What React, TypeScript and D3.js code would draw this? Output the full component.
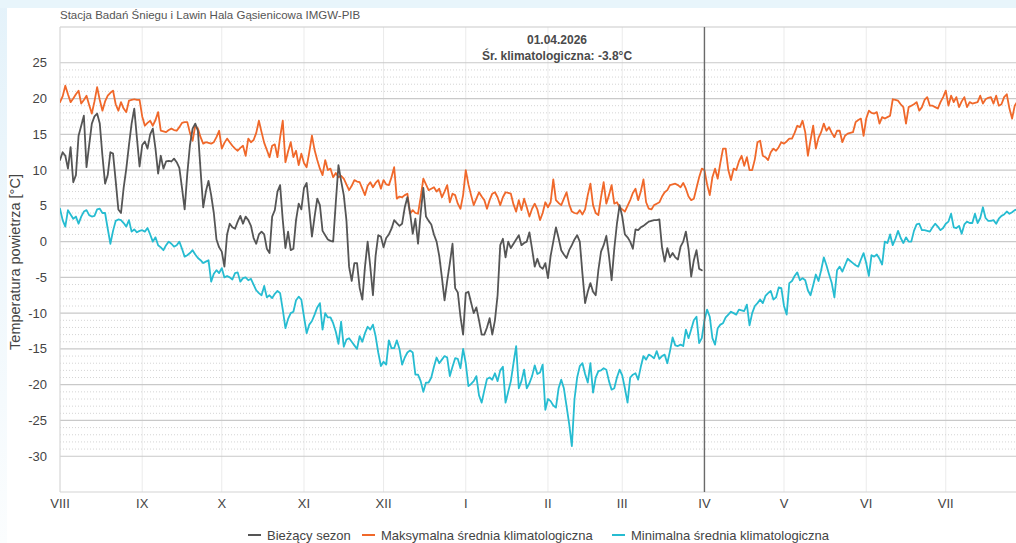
import React from "react";
import * as d3 from "d3";

// Roman month labels, August to July
const monthLabels = ["VIII", "IX", "X", "XI", "XII", "I", "II", "III", "IV", "V", "VI", "VII"];
const yTickValues = [25, 20, 15, 10, 5, 0, -5, -10, -15, -20, -25, -30];

const seasonStart = new Date(Date.UTC(2025, 7, 1));
const seasonEnd = new Date(Date.UTC(2026, 7, 1));
const markerDate = new Date(Date.UTC(2026, 3, 1));

const stationName = "Stacja Badań Śniegu i Lawin Hala Gąsienicowa IMGW-PIB";
const markerLabel = "01.04.2026";
const markerClimLabel = "Śr. klimatologiczna: -3.8°C";

const legendLabels = [
  "Bieżący sezon",
  "Maksymalna średnia klimatologiczna",
  "Minimalna średnia klimatologiczna",
];

// Daily maximum climatological mean temperature, 1 Aug – 31 Jul
const maxClim = [
  19.5, 20.3, 21.8, 20.6, 19.5, 20.0, 20.6, 21.1, 19.3, 19.8, 20.4, 19.1, 17.9, 19.6, 21.6, 19.8, 18.3, 19.6, 20.4, 20.8, 21.1, 19.2, 18.3, 19.5, 18.6, 18.1, 19.7, 19.8, 19.9, 19.8, 19.8,
  17.5, 16.2, 16.6, 16.9, 16.2, 17.0, 18.1, 15.5, 15.4, 15.3, 15.6, 15.8, 15.6, 15.5, 16.0, 16.6, 16.7, 16.7, 15.2, 14.1, 16.2, 15.8, 14.6, 13.7, 13.9, 13.8, 13.7, 13.9, 14.6, 15.5,
  13.0, 13.8, 14.4, 13.9, 13.4, 13.0, 12.7, 13.1, 13.4, 12.0, 14.4, 13.9, 14.2, 15.2, 16.9, 15.3, 13.8, 12.8, 11.8, 13.4, 13.6, 11.8, 14.6, 16.9, 11.1, 12.6, 13.9, 11.8, 12.7, 10.7, 12.3,
  11.0, 10.4, 12.5, 14.8, 12.8, 11.4, 10.2, 9.3, 11.4, 10.0, 10.2, 9.0, 9.6, 9.0, 9.2, 8.8, 8.0, 7.2, 7.8, 8.6, 8.4, 8.3, 7.4, 6.5, 7.8, 8.3, 7.6, 8.2, 8.6, 7.4,
  8.6, 8.0, 7.9, 9.0, 10.4, 6.0, 6.3, 6.2, 6.5, 6.7, 3.9, 4.4, 4.0, 3.9, 6.2, 8.8, 8.0, 7.2, 7.4, 7.6, 7.0, 7.4, 6.2, 7.0, 7.9, 5.5, 6.7, 6.5, 5.3, 4.6, 6.5,
  10.0, 8.0, 6.5, 5.1, 6.0, 6.9, 6.3, 5.8, 4.6, 5.8, 6.7, 6.9, 6.2, 5.1, 6.2, 6.9, 6.8, 6.7, 5.2, 4.2, 5.8, 4.4, 6.0, 4.8, 3.5, 4.6, 5.3, 4.5, 3.0, 4.0, 5.5,
  4.8, 5.5, 8.7, 5.8, 5.4, 5.1, 6.0, 6.9, 5.2, 4.2, 4.0, 3.9, 4.4, 3.8, 4.5, 6.5, 8.1, 5.1, 4.0, 3.7, 6.2, 8.3, 5.3, 6.5, 7.9, 5.3, 5.5, 4.8,
  4.5, 4.2, 5.0, 5.8, 6.8, 7.4, 5.8, 7.0, 8.7, 5.5, 4.6, 4.5, 5.1, 5.3, 5.5, 6.3, 6.9, 7.2, 7.9, 8.0, 8.1, 7.9, 7.6, 8.2, 7.4, 6.3, 5.8, 6.0, 7.5, 9.0, 10.2,
  10.0, 8.0, 6.5, 9.0, 10.2, 8.8, 11.0, 13.0, 13.0, 10.0, 8.6, 10.2, 10.0, 11.2, 12.0, 10.6, 11.8, 10.0, 10.0, 11.5, 13.9, 14.1, 12.0, 11.8, 11.4, 12.5, 13.0, 12.7, 13.2, 13.9,
  13.7, 14.0, 14.4, 14.4, 15.2, 16.2, 16.0, 16.9, 15.3, 12.0, 14.2, 16.2, 13.0, 14.5, 15.3, 16.5, 15.5, 16.0, 15.2, 14.6, 15.5, 15.5, 13.9, 14.8, 15.1, 15.2, 15.3, 16.7, 17.0, 17.2, 14.8,
  17.2, 18.3, 18.0, 17.9, 18.1, 16.5, 17.4, 17.2, 17.4, 17.6, 19.9, 19.8, 19.7, 19.2, 18.8, 16.5, 18.8, 19.0, 19.2, 19.5, 18.3, 18.8, 19.8, 20.2, 19.0, 19.0, 18.8, 18.6, 19.5, 20.2,
  21.1, 19.0, 20.4, 19.5, 20.2, 18.8, 19.6, 20.2, 18.8, 19.5, 19.3, 19.4, 19.5, 20.4, 19.3, 19.9, 20.1, 20.2, 19.3, 20.4, 19.0, 19.2, 20.2, 20.6, 18.6, 17.2, 19.0, 19.6, 20.0, 19.5, 19.8,
];

// Daily minimum climatological mean temperature, 1 Aug – 31 Jul
const minClim = [
  4.6, 3.0, 2.1, 4.4, 3.8, 3.2, 3.5, 2.5, 3.5, 4.2, 4.4, 3.7, 3.5, 3.6, 4.5, 4.6, 4.0, 4.0, 1.8, -0.3, 1.5, 2.9, 3.1, 3.0, 2.6, 2.1, 3.0, 1.4, 1.7, 1.3, 1.5,
  1.6, 1.4, 1.9, 1.0, 0.0, 0.6, -0.5, -0.8, -1.2, -0.5, 0.0, -0.3, -0.7, -0.5, 0.0, -1.0, -2.1, -1.9, -1.6, -1.2, -1.8, -2.3, -2.6, -3.0, -2.8, -2.6, -5.6, -4.5, -4.0, -4.4,
  -3.7, -5.0, -4.8, -5.0, -5.3, -4.4, -4.3, -5.6, -5.1, -5.0, -5.4, -5.2, -6.0, -6.8, -7.2, -7.5, -6.2, -7.8, -7.5, -7.9, -7.3, -6.9, -7.2, -9.5, -12.1, -10.8, -10.0, -9.8, -8.2, -7.7, -8.1,
  -10.5, -12.8, -11.6, -11.1, -10.2, -9.2, -8.6, -12.3, -10.0, -10.6, -10.6, -11.4, -12.6, -14.3, -11.2, -14.7, -13.7, -13.5, -14.0, -14.5, -15.0, -13.2, -14.0, -12.8, -11.9, -12.3, -11.6, -13.2, -15.5, -17.4,
  -16.8, -17.2, -13.8, -14.9, -14.9, -13.8, -15.0, -17.2, -16.2, -15.5, -15.2, -15.5, -18.6, -18.6, -19.5, -21.0, -19.7, -19.7, -19.0, -17.5, -16.2, -17.0, -16.5, -16.0, -16.2, -18.8, -17.5, -16.3, -16.4, -17.7, -15.0,
  -17.0, -20.2, -19.9, -19.5, -18.8, -21.5, -22.5, -20.8, -19.2, -19.0, -19.3, -18.4, -19.5, -18.0, -17.5, -22.5, -21.0, -19.5, -17.0, -14.6, -20.5, -19.5, -17.9, -20.5, -19.8, -18.8, -17.3, -18.5, -18.3, -17.2, -23.5,
  -22.0, -22.3, -22.9, -23.2, -20.5, -19.3, -20.5, -23.0, -25.5, -28.6, -22.0, -19.0, -17.4, -17.0, -18.5, -19.7, -17.0, -21.1, -19.0, -18.1, -18.0, -17.7, -17.9, -19.5, -20.7, -20.5, -19.0, -17.9,
  -18.7, -20.5, -22.5, -19.0, -18.6, -18.4, -19.3, -17.5, -16.0, -16.5, -15.8, -16.0, -16.3, -15.3, -16.4, -16.0, -15.8, -17.0, -15.3, -13.4, -14.5, -14.6, -14.4, -14.6, -12.3, -13.5, -12.3, -11.0, -10.5, -14.2, -13.5,
  -11.0, -9.5, -10.5, -13.5, -14.4, -12.1, -11.6, -11.4, -10.6, -10.2, -9.8, -10.0, -10.2, -9.5, -9.6, -9.7, -8.8, -11.7, -10.0, -9.0, -8.6, -8.1, -8.6, -7.6, -7.2, -6.9, -8.1, -7.8, -6.4, -6.5,
  -9.0, -10.2, -5.8, -5.5, -4.8, -4.3, -5.4, -5.1, -5.4, -6.8, -7.5, -6.1, -4.6, -5.5, -4.0, -2.2, -3.3, -4.6, -5.8, -7.8, -4.0, -3.5, -4.2, -3.3, -2.4, -2.7, -3.0, -3.3, -3.5, -2.5, -1.6,
  -3.0, -4.8, -1.9, -2.1, -1.8, -2.4, -3.2, 0.0, -0.2, 1.0, -0.5, 0.4, 1.5, 0.5, -0.2, 0.6, 0.0, 0.0, 1.5, 2.4, 2.5, 1.6, 1.6, 1.5, 1.4, 2.0, 2.5, 2.1, 1.6, 1.9,
  2.5, 2.8, 3.9, 2.0, 1.9, 2.2, 1.1, 2.4, 2.8, 2.6, 2.6, 3.9, 2.6, 3.3, 4.8, 3.3, 2.9, 2.9, 3.0, 2.5, 3.2, 3.6, 3.8, 4.2, 3.9, 4.1, 4.4, 4.5, 4.2, 4.6, 4.4,
];

// Daily mean temperature of the current season, 1 Aug 2025 – 31 Mar 2026
const currentSeason = [
  11.4, 12.5, 12.0, 10.2, 13.2, 8.3, 9.3, 14.8, 16.2, 17.6, 10.4, 13.5, 16.5, 17.5, 17.9, 16.5, 12.0, 8.1, 9.3, 12.5, 12.3, 8.5, 4.5, 4.0, 7.5, 10.2, 13.5, 16.5, 18.6, 14.5, 10.5,
  13.5, 14.0, 13.0, 15.0, 15.8, 13.0, 9.5, 12.0, 10.2, 11.2, 11.3, 11.2, 11.6, 11.1, 10.3, 7.5, 4.5, 9.5, 13.5, 15.8, 16.5, 15.5, 10.0, 4.8, 7.0, 8.5, 6.5, 4.0, 0.3, -0.8,
  -1.4, -3.5, 1.0, 2.5, 2.0, 1.8, 2.8, 3.6, 2.5, 3.5, 3.0, 2.2, 0.5, -0.3, 1.0, 1.4, 1.0, -1.0, -1.6, 3.5, 4.4, 7.0, 7.9, 3.0, -0.9, 1.4, -1.2, -1.0, 3.0, 5.3, 4.5,
  7.5, 8.2, 4.5, 0.7, 3.5, 6.0, 5.1, 1.5, 0.9, 0.3, 0.1, 0.0, 5.5, 10.7, 8.5, 6.5, 3.0, -3.5, -5.5, -3.0, -3.0, -6.5, -8.1, -3.5, 0.0, -3.5, -7.5, -2.0, 0.9, 0.7,
  -0.8, 0.5, 1.0, 1.8, 3.0, 2.6, 2.2, 2.5, 4.8, 6.2, 4.0, 1.1, 3.2, -0.3, 4.0, 7.5, 3.5, 2.9, 2.4, 1.0, 0.0, -2.0, -5.0, -8.2, -5.5, -3.0, -0.3, -6.5, -7.1, -10.5, -13.0,
  -7.2, -7.0, -8.5, -10.0, -9.2, -11.0, -13.0, -13.0, -12.0, -10.7, -13.0, -11.0, -7.5, -0.5, 0.4, -2.2, 0.0, -0.9, -0.3, 0.3, 0.9, -0.5, -0.2, 0.0, 1.3, -1.0, -3.5, -2.4, -3.5, -3.8, -3.0,
  -5.1, -2.0, 0.0, 2.0, 0.5, -1.2, -1.8, -2.3, -1.2, -0.5, 0.3, 0.9, 0.0, -4.5, -8.6, -7.0, -5.8, -7.0, -7.5, -4.0, -1.4, -0.5, 0.8, -2.0, -5.4, -1.0, 2.5, 5.1,
  3.5, 1.0, 0.6, 0.0, -1.0, 1.7, 1.6, 2.0, 2.2, 2.5, 2.8, 2.9, 3.0, 3.0, 3.1, -0.8, -2.8, -0.9, -2.2, -1.6, -2.2, -2.5, -0.7, 0.0, 1.4, -1.0, -4.9, -2.6, -1.2, -3.8, -4.0,
];

const COLORS = {
  season: "#555555",
  max: "#f0682a",
  min: "#26bcd1",
  majorGrid: "#c9c9c9",
  minorGrid: "#d4d4d4",
  monthGrid: "#ebebeb",
  text: "#444444",
};

const FONT = "'Liberation Sans', Arial, Helvetica, sans-serif";

const W = 1016;
const H = 543;
const plot = { left: 60, right: 1028, top: 27, bottom: 492 };

export default function App() {
  const x = d3.scaleUtc().domain([seasonStart, seasonEnd]).range([plot.left, plot.right]);
  const y = d3.scaleLinear().domain([-35, 30]).range([plot.bottom, plot.top]);

  const dayDate = (i: number) => d3.utcDay.offset(seasonStart, i);
  const line = d3
    .line<number>()
    .x((_, i) => x(dayDate(i)))
    .y((v) => y(v));

  const monthTicks = d3.utcMonth.range(seasonStart, seasonEnd);
  const minorTicks = d3.range(-30, 26).filter((v) => v % 5 !== 0);
  const markerX = x(markerDate);

  const legendItems = [
    { label: legendLabels[0], color: COLORS.season, x: 248 },
    { label: legendLabels[1], color: COLORS.max, x: 362 },
    { label: legendLabels[2], color: COLORS.min, x: 612 },
  ];

  return (
    <div style={{ position: "absolute", left: 0, top: 0, width: W, height: H }}>
      <svg width={W} height={H} style={{ display: "block", fontFamily: FONT }}>
        <defs>
          <linearGradient id="edgeFade" x1="0" y1="0" x2="0" y2="1">
            <stop offset="0%" stopColor="#e4f2fa" />
            <stop offset="100%" stopColor="#fbfdfe" />
          </linearGradient>
          <clipPath id="plotClip">
            <rect x={plot.left} y={plot.top} width={plot.right - plot.left} height={plot.bottom - plot.top} />
          </clipPath>
        </defs>

        {/* page background and white card */}
        <rect x={0} y={0} width={W} height={H} fill="url(#edgeFade)" />
        <rect x={0} y={0} width={W} height={8} fill="#e8f5fb" />
        <rect x={7} y={8} width={W - 7} height={H - 8} fill="#ffffff" />

        {/* station name */}
        <text x={plot.left} y={19} fontSize={11.5} fill="#555">
          {stationName}
        </text>

        {/* month grid */}
        {monthTicks.map((d, i) => (
          <line key={`m${i}`} x1={x(d)} x2={x(d)} y1={plot.top} y2={plot.bottom} stroke={COLORS.monthGrid} strokeWidth={1} />
        ))}

        {/* minor dotted grid, every 1 °C */}
        {minorTicks.map((v) => (
          <line
            key={`n${v}`}
            x1={plot.left}
            x2={plot.right}
            y1={y(v)}
            y2={y(v)}
            stroke={COLORS.minorGrid}
            strokeWidth={1}
            strokeDasharray="1 2"
          />
        ))}

        {/* major grid, every 5 °C */}
        {[30, ...yTickValues].map((v) => (
          <line key={`g${v}`} x1={plot.left} x2={plot.right} y1={y(v)} y2={y(v)} stroke={COLORS.majorGrid} strokeWidth={1.2} />
        ))}

        {/* axis frame */}
        <line x1={plot.left} x2={plot.left} y1={plot.top} y2={plot.bottom} stroke="#d8d8d8" strokeWidth={1} />
        <line x1={plot.left} x2={plot.right} y1={plot.bottom} y2={plot.bottom} stroke="#d4d4d4" strokeWidth={1.2} />

        {/* series */}
        <g clipPath="url(#plotClip)" fill="none" strokeLinejoin="round" strokeLinecap="round">
          <path d={line(minClim) ?? ""} stroke={COLORS.min} strokeWidth={1.8} />
          <path d={line(maxClim) ?? ""} stroke={COLORS.max} strokeWidth={1.8} />
          <path d={line(currentSeason) ?? ""} stroke={COLORS.season} strokeWidth={1.8} />
        </g>

        {/* current day marker */}
        <line x1={markerX} x2={markerX} y1={plot.top} y2={plot.bottom} stroke="#6a6a6a" strokeWidth={1.4} />
        <text x={557} y={44} textAnchor="middle" fontSize={12} fontWeight="bold" fill="#4a4a4a">
          {markerLabel}
        </text>
        <text x={557} y={60} textAnchor="middle" fontSize={12} fontWeight="bold" fill="#4a4a4a">
          {markerClimLabel}
        </text>

        {/* y tick labels */}
        {yTickValues.map((v) => (
          <text key={`t${v}`} x={47} y={y(v)} dy="0.35em" textAnchor="end" fontSize={13} fill={COLORS.text}>
            {v}
          </text>
        ))}

        {/* x tick labels */}
        {monthTicks.map((d, i) => (
          <text key={`l${i}`} x={x(d)} y={508} textAnchor="middle" fontSize={13} fill={COLORS.text}>
            {monthLabels[i]}
          </text>
        ))}

        {/* y axis title */}
        <text transform={`translate(20, 262) rotate(-90)`} textAnchor="middle" fontSize={14.5} fill={COLORS.text}>
          Temperatura powietrza [°C]
        </text>

        {/* legend */}
        {legendItems.map((it) => (
          <g key={it.label}>
            <line x1={it.x} x2={it.x + 13} y1={535} y2={535} stroke={it.color} strokeWidth={2} />
            <text x={it.x + 19} y={539.5} fontSize={13} fill={COLORS.text}>
              {it.label}
            </text>
          </g>
        ))}
      </svg>
    </div>
  );
}
